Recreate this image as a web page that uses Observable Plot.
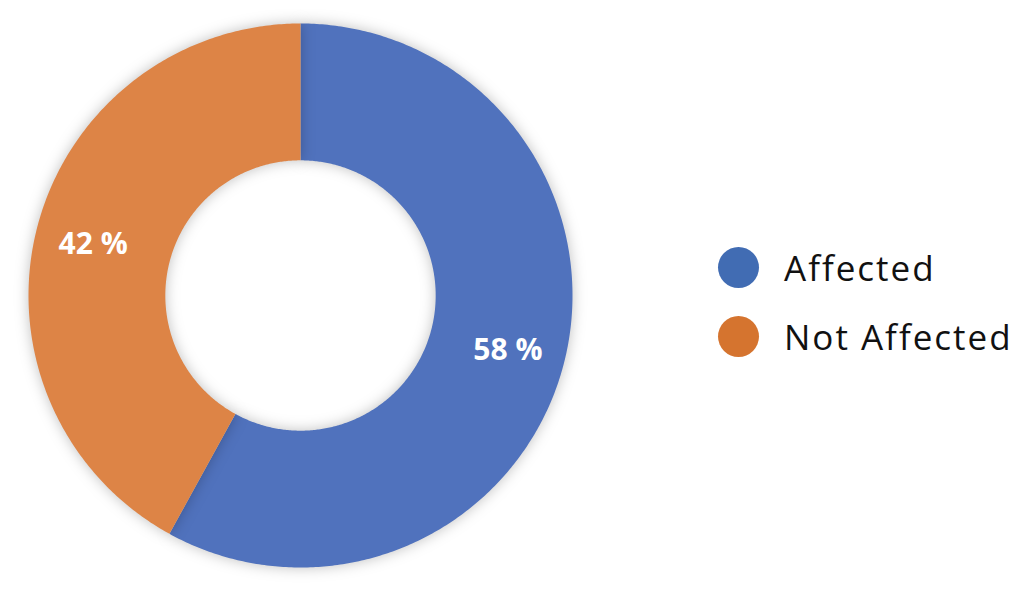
<!DOCTYPE html>
<html>
<head>
<meta charset="utf-8">
<script src="https://cdn.jsdelivr.net/npm/d3@7"></script>
<script src="https://cdn.jsdelivr.net/npm/@observablehq/plot@0.6"></script>
<style>
  html, body { margin: 0; padding: 0; background: #fff; }
  #wrap { position: relative; width: 1014px; height: 600px; }
  #chart { position: absolute; left: 0; top: 0; }
  #chart g[aria-label="line"] { filter: drop-shadow(0 0 7px rgba(0,0,0,0.25)); }
  #legend { position: absolute; left: 718px; top: 246px; font-family: "Open Sans", sans-serif; font-size: 35px; color: #111; letter-spacing: 2px; }
  .item { display: flex; align-items: center; height: 42px; margin-bottom: 27px; }
  .sw { width: 41px; height: 41px; border-radius: 50%; margin-right: 25px; flex: none; }
</style>
</head>
<body>
<div id="wrap"><div id="chart"></div><div id="legend"></div></div>
<script>
const categories = ["Affected", "Not Affected"];
const values = [58, 42];
const labels = ["58 %", "42 %"];
const sliceColors = ["#5072BD", "#DD8446"];
const legendColors = ["#416CB3", "#D5742F"];

const innerR = 0.497, outerR = 1, labelR = 0.787;
const pie = d3.pie().sort(null).value(d => d.value)(categories.map((c, i) => ({category: c, value: values[i], label: labels[i]})));

const rings = [];
pie.forEach(s => {
  const n = Math.max(2, Math.ceil((s.endAngle - s.startAngle) / 0.01));
  const pts = [];
  for (let k = 0; k <= n; k++) { const a = s.startAngle + (s.endAngle - s.startAngle) * k / n; pts.push([outerR * Math.sin(a), outerR * Math.cos(a)]); }
  for (let k = n; k >= 0; k--) { const a = s.startAngle + (s.endAngle - s.startAngle) * k / n; pts.push([innerR * Math.sin(a), innerR * Math.cos(a)]); }
  pts.forEach(([x, y]) => rings.push({category: s.data.category, x, y}));
});
const labelData = pie.map(s => { const a = (s.startAngle + s.endAngle) / 2; return {label: s.data.label, x: labelR * Math.sin(a), y: labelR * Math.cos(a)}; });

const chart = Plot.plot({
  width: 600, height: 600,
  margin: 0,
  x: {domain: [-1, 1], range: [28, 572], axis: null},
  y: {domain: [-1, 1], range: [567, 23], axis: null},
  color: {domain: categories, range: sliceColors},
  marks: [
    ...categories.map((c, i) => Plot.line(rings.filter(d => d.category === c), {x: "x", y: "y", fill: sliceColors[i], stroke: "none"})),
    Plot.text(labelData, {x: "x", y: "y", dy: 2, text: "label", fill: "white", fontSize: 30, fontWeight: "bold", fontFamily: "Open Sans, sans-serif"})
  ]
});
document.getElementById("chart").appendChild(chart);

const legend = document.getElementById("legend");
categories.forEach((c, i) => {
  const it = document.createElement("div"); it.className = "item";
  const sw = document.createElement("span"); sw.className = "sw"; sw.style.background = legendColors[i];
  const tx = document.createElement("span"); tx.textContent = c;
  it.appendChild(sw); it.appendChild(tx); legend.appendChild(it);
});
</script>
</body>
</html>
